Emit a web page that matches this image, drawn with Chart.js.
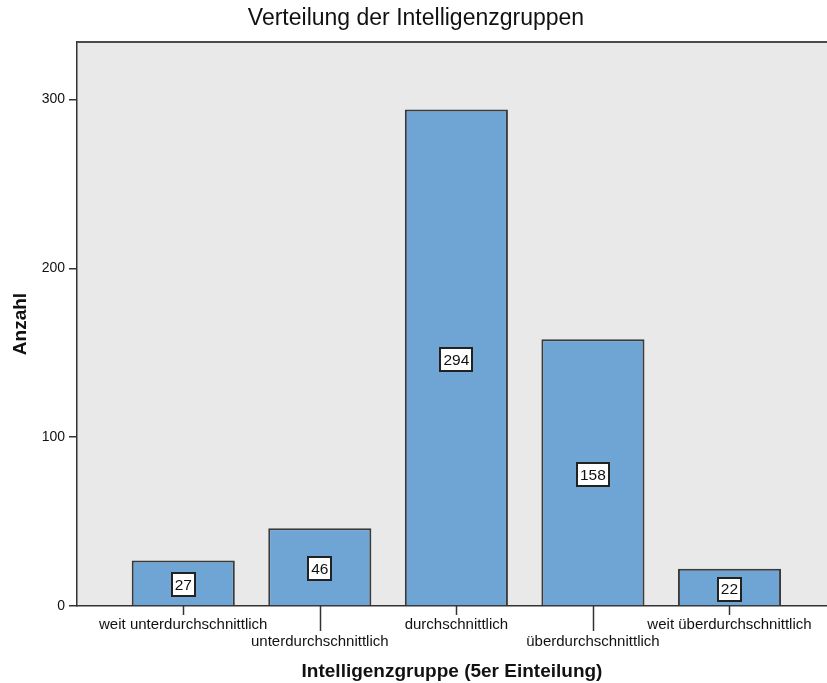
<!DOCTYPE html>
<html>
<head>
<meta charset="utf-8">
<title>Verteilung der Intelligenzgruppen</title>
<script src="https://cdn.jsdelivr.net/npm/chart.js@4/dist/chart.umd.min.js"></script>
<style>
  html, body { margin: 0; padding: 0; background: #fff; }
  #wrap { width: 827px; height: 683px; position: relative; }
</style>
</head>
<body>
<div id="wrap"><canvas id="chart"></canvas></div>
<script>
// Data
const categories = [
  'weit unterdurchschnittlich',
  'unterdurchschnittlich',
  'durchschnittlich',
  'überdurchschnittlich',
  'weit überdurchschnittlich'
];
const counts = [27, 46, 294, 158, 22];
const yTicks = [0, 100, 200, 300];

const chartTitle = 'Verteilung der Intelligenzgruppen';
const xTitle = 'Intelligenzgruppe (5er Einteilung)';
const yTitle = 'Anzahl';

const FONT = '"Liberation Sans", Arial, sans-serif';
const INK = '#111111';
const AXIS = '#333333';

// plot background, top border, staggered tick marks, value boxes
const spssDecor = {
  id: 'spssDecor',
  beforeDraw(chart) {
    const { ctx, chartArea: a } = chart;
    ctx.save();
    ctx.fillStyle = '#E9E9E9';
    ctx.fillRect(a.left, a.top, a.right - a.left, a.bottom - a.top);
    ctx.restore();
  },
  afterDraw(chart) {
    const { ctx, chartArea: a } = chart;
    const xs = chart.scales.x;
    ctx.save();

    // title
    ctx.fillStyle = INK;
    ctx.font = '23px ' + FONT;
    ctx.textAlign = 'center';
    ctx.textBaseline = 'alphabetic';
    ctx.fillText(chartTitle, 416, 25);

    // top border of plot
    ctx.strokeStyle = '#4a4a4a';
    ctx.lineWidth = 2;
    ctx.beginPath();
    ctx.moveTo(a.left, a.top);
    ctx.lineTo(a.right, a.top);
    ctx.stroke();

    // tick marks on the category axis (long ones for second row)
    ctx.strokeStyle = AXIS;
    ctx.lineWidth = 1.5;
    categories.forEach((c, i) => {
      const px = Math.round(xs.getPixelForValue(i)) + 0.5;
      ctx.beginPath();
      ctx.moveTo(px, a.bottom);
      ctx.lineTo(px, a.bottom + (i % 2 ? 25 : 9));
      ctx.stroke();
    });

    // value label boxes in the middle of each bar
    const meta = chart.getDatasetMeta(0);
    ctx.font = '15.5px ' + FONT;
    ctx.textAlign = 'center';
    ctx.textBaseline = 'middle';
    meta.data.forEach((bar, i) => {
      const txt = String(counts[i]);
      const w = Math.round(ctx.measureText(txt).width + 6);
      const h = 23;
      const cy = (bar.y + bar.base) / 2 + 2;
      const bx = Math.round(bar.x - w / 2);
      const by = Math.round(cy - h / 2);
      ctx.fillStyle = '#ffffff';
      ctx.fillRect(bx, by, w, h);
      ctx.strokeStyle = '#222';
      ctx.lineWidth = 2;
      ctx.strokeRect(bx, by, w, h);
      ctx.fillStyle = INK;
      ctx.fillText(txt, bar.x, cy + 1);
    });

    ctx.restore();
  }
};

new Chart(document.getElementById('chart'), {
  type: 'bar',
  data: {
    datasets: [{
      label: yTitle,
      data: counts.map((v, i) => ({ x: i, y: v })),
      backgroundColor: '#6FA5D4',
      borderColor: '#3a3a3a',
      borderWidth: 2,
      categoryPercentage: 1,
      barPercentage: 0.755
    }]
  },
  options: {
    responsive: true,
    maintainAspectRatio: false,
    animation: false,
    layout: { padding: { top: 42, left: 0, right: 0, bottom: 0 } },
    plugins: {
      legend: { display: false },
      title: { display: false },
      tooltip: { enabled: false }
    },
    scales: {
      x: {
        type: 'linear',
        min: -0.778,
        max: 4.714,
        offset: false,
        afterBuildTicks(scale) {
          scale.ticks = categories.map((c, i) => ({ value: i }));
        },
        afterFit(scale) { scale.height = 77; },
        grid: { display: false, drawTicks: false, drawOnChartArea: false },
        border: { display: true, color: AXIS, width: 1.5 },
        ticks: {
          autoSkip: false,
          maxRotation: 0,
          minRotation: 0,
          padding: 11,
          color: INK,
          font: { family: FONT, size: 15, lineHeight: 1.1 },
          callback(value) {
            const label = categories[value];
            return value % 2 ? ['', label] : label;
          }
        },
        title: {
          display: true,
          text: xTitle,
          color: INK,
          font: { family: FONT, size: 19, weight: 'bold' },
          padding: { top: 0, bottom: 0 }
        }
      },
      y: {
        min: 0,
        max: 334,
        afterBuildTicks(scale) {
          scale.ticks = yTicks.map(v => ({ value: v }));
        },
        afterFit(scale) { scale.width = 77; },
        grid: {
          drawOnChartArea: false,
          drawTicks: true,
          tickLength: 8,
          color: AXIS,
          lineWidth: 1.5
        },
        border: { display: true, color: AXIS, width: 1.5 },
        ticks: {
          padding: 4,
          color: INK,
          font: { family: FONT, size: 14 }
        },
        title: {
          display: true,
          text: yTitle,
          color: INK,
          font: { family: FONT, size: 19, weight: 'bold' },
          padding: { top: 9, bottom: 0 }
        }
      }
    }
  },
  plugins: [spssDecor]
});
</script>
</body>
</html>
